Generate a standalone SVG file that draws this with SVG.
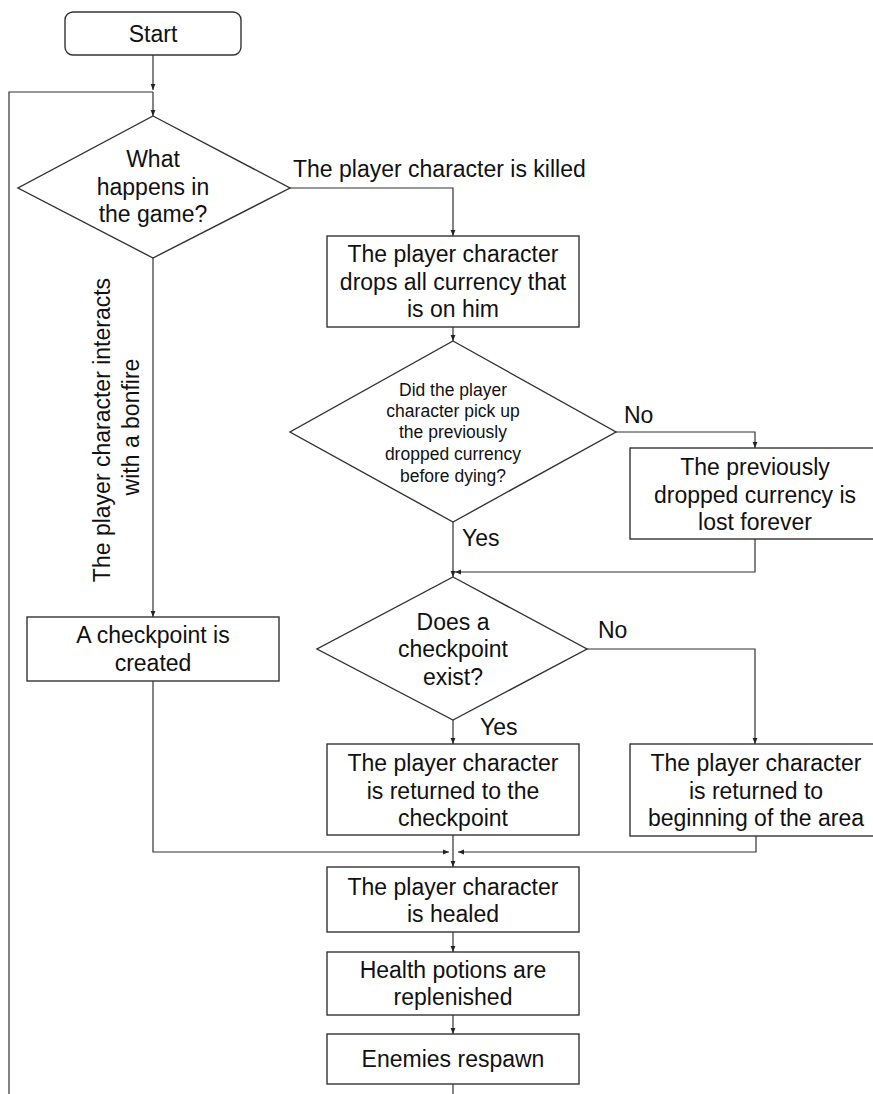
<svg xmlns="http://www.w3.org/2000/svg" width="873" height="1094" viewBox="0 0 873 1094">
<style>
.n{fill:#fff;stroke:#333;stroke-width:1.4}
.t{font-family:"Liberation Sans",Arial,sans-serif;font-size:23px;fill:#111;text-anchor:middle}
.s{font-family:"Liberation Sans",Arial,sans-serif;font-size:17.5px;fill:#111;text-anchor:middle}
.l{font-family:"Liberation Sans",Arial,sans-serif;font-size:23px;fill:#111}
.c{fill:none;stroke:#333;stroke-width:1.2}
</style>
<defs>
<marker id="a" viewBox="0 0 10 10" refX="10" refY="5" markerWidth="6" markerHeight="6" orient="auto" markerUnits="userSpaceOnUse">
<path d="M0,1 L10,5 L0,9 z" fill="#222"/>
</marker>
</defs>
<rect width="873" height="1094" fill="#fff"/>
<g id="connectors">
<path class="c" d="M153,55 V90" marker-end="url(#a)"/>
<path class="c" d="M9,1094 V92 H153"/>
<path class="c" d="M153,92 V116" marker-end="url(#a)"/>
<path class="c" d="M290,188 H453 V236" marker-end="url(#a)"/>
<path class="c" d="M453,327 V341" marker-end="url(#a)"/>
<path class="c" d="M616,432 H755 V448" marker-end="url(#a)"/>
<path class="c" d="M755,539 V572 H455" marker-end="url(#a)"/>
<path class="c" d="M453,522 V577" marker-end="url(#a)"/>
<path class="c" d="M587,649 H755 V744" marker-end="url(#a)"/>
<path class="c" d="M453,720 V744" marker-end="url(#a)"/>
<path class="c" d="M153,258 V617" marker-end="url(#a)"/>
<path class="c" d="M153,681 V852 H449" marker-end="url(#a)"/>
<path class="c" d="M756,836 V852 H458" marker-end="url(#a)"/>
<path class="c" d="M453,835 V867" marker-end="url(#a)"/>
<path class="c" d="M453,932 V952" marker-end="url(#a)"/>
<path class="c" d="M453,1015 V1034" marker-end="url(#a)"/>
<path class="c" d="M453,1084 V1094"/>
<text class="l" x="293" y="177">The player character is killed</text>
<text class="l" x="624" y="423">No</text>
<text class="l" x="462" y="546">Yes</text>
<text class="l" x="598" y="638">No</text>
<text class="l" x="480" y="735">Yes</text>
<text class="t" transform="translate(110,430) rotate(-90)">The player character interacts</text>
<text class="t" transform="translate(139,427) rotate(-90)">with a bonfire</text>
</g>
<g id="start">
<rect class="n" x="65" y="12" width="176" height="43" rx="8"/>
<text class="t" x="153" y="42">Start</text>
</g>
<g id="d1">
<polygon class="n" points="153,116 290,188 153,258 18,188"/>
<text class="t" x="153" y="167">What</text>
<text class="t" x="153" y="195">happens in</text>
<text class="t" x="153" y="222">the game?</text>
</g>
<g id="b2">
<rect class="n" x="327" y="236" width="252" height="91"/>
<text class="t" x="453" y="262">The player character</text>
<text class="t" x="453" y="290">drops all currency that</text>
<text class="t" x="453" y="317">is on him</text>
</g>
<g id="d2">
<polygon class="n" points="453,341 616,432 453,522 290,432"/>
<text class="s" x="453" y="396">Did the player</text>
<text class="s" x="453" y="417">character pick up</text>
<text class="s" x="453" y="438">the previously</text>
<text class="s" x="453" y="460">dropped currency</text>
<text class="s" x="453" y="482">before dying?</text>
</g>
<g id="b3">
<rect class="n" x="630" y="448" width="250" height="91"/>
<text class="t" x="755" y="475">The previously</text>
<text class="t" x="755" y="503">dropped currency is</text>
<text class="t" x="755" y="530">lost forever</text>
</g>
<g id="d3">
<polygon class="n" points="453,577 587,649 453,720 317,649"/>
<text class="t" x="453" y="630">Does a</text>
<text class="t" x="453" y="657">checkpoint</text>
<text class="t" x="453" y="685">exist?</text>
</g>
<g id="b1">
<rect class="n" x="27" y="617" width="252" height="64"/>
<text class="t" x="153" y="643">A checkpoint is</text>
<text class="t" x="153" y="671">created</text>
</g>
<g id="b4">
<rect class="n" x="327" y="744" width="252" height="91"/>
<text class="t" x="453" y="771">The player character</text>
<text class="t" x="453" y="799">is returned to the</text>
<text class="t" x="453" y="826">checkpoint</text>
</g>
<g id="b5">
<rect class="n" x="630" y="744" width="250" height="92"/>
<text class="t" x="756" y="771">The player character</text>
<text class="t" x="756" y="799">is returned to</text>
<text class="t" x="756" y="826">beginning of the area</text>
</g>
<g id="b6">
<rect class="n" x="327" y="867" width="252" height="65"/>
<text class="t" x="453" y="895">The player character</text>
<text class="t" x="453" y="922">is healed</text>
</g>
<g id="b7">
<rect class="n" x="327" y="952" width="252" height="63"/>
<text class="t" x="453" y="978">Health potions are</text>
<text class="t" x="453" y="1005">replenished</text>
</g>
<g id="b8">
<rect class="n" x="327" y="1034" width="252" height="50"/>
<text class="t" x="453" y="1067">Enemies respawn</text>
</g>
</svg>
